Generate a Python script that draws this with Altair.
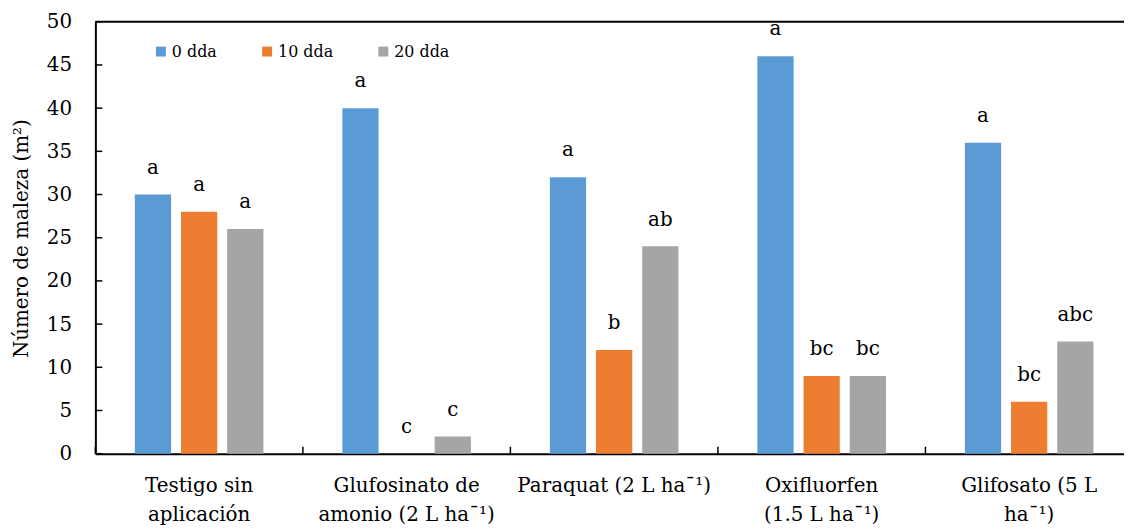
import altair as alt
import pandas as pd

categories = [
    "Testigo sin|aplicación",
    "Glufosinato de|amonio (2 L ha¯¹)",
    "Paraquat (2 L ha¯¹)",
    "Oxifluorfen|(1.5 L ha¯¹)",
    "Glifosato (5 L|ha¯¹)",
]
series = ["0 dda", "10 dda", "20 dda"]
values_0 = [30, 40, 32, 46, 36]
values_10 = [28, 0, 12, 9, 6]
values_20 = [26, 2, 24, 9, 13]
letters_0 = ["a", "a", "a", "a", "a"]
letters_10 = ["a", "c", "b", "bc", "bc"]
letters_20 = ["a", "c", "ab", "bc", "abc"]
y_ticks = [0, 5, 10, 15, 20, 25, 30, 35, 40, 45, 50]
colors = ["#5B9BD5", "#ED7D31", "#A5A5A5"]

rows = []
for i, c in enumerate(categories):
    for s, vals, lets in zip(series, [values_0, values_10, values_20],
                             [letters_0, letters_10, letters_20]):
        rows.append({"cat": c, "dda": s, "value": vals[i], "letter": lets[i]})
df = pd.DataFrame(rows)

FONT = "DejaVu Serif"
W, H = 1036, 435

x_enc = alt.X(
    "cat:N", sort=categories,
    scale=alt.Scale(range=[0, 1045], paddingInner=0, paddingOuter=0),
    axis=alt.Axis(title=None, labelExpr="split(datum.label, '|')", labelAngle=0,
                  ticks=False, tickSize=0, domain=True, domainColor="black",
                  domainWidth=2, labelFont=FONT, labelFontSize=20, labelColor="black",
                  labelPadding=22, labelBaseline="top", labelLineHeight=29,
                  labelLimit=0),
)
xoff_enc = alt.XOffset("dda:N", sort=series,
                       scale=alt.Scale(paddingInner=0.215, paddingOuter=0.855))
y_enc = alt.Y(
    "value:Q",
    scale=alt.Scale(domain=[0, 50], nice=False, zero=True),
    axis=alt.Axis(values=y_ticks, title="Número de maleza (m²)", titleFont=FONT,
                  titleFontSize=20, titleFontWeight="normal", titleColor="black",
                  titleAngle=270, titleX=-74, titleY=218, titleAlign="center",
                  titleBaseline="middle", grid=False, ticks=False, tickSize=0,
                  labelPadding=24, labelFont=FONT, labelFontSize=20,
                  labelColor="black", domainColor="black", domainWidth=2),
)

bars = alt.Chart(df).mark_bar().encode(
    x=x_enc, xOffset=xoff_enc, y=y_enc,
    color=alt.Color("dda:N", sort=series,
                    scale=alt.Scale(domain=series, range=colors),
                    legend=alt.Legend(title=None, orient="none", legendX=58, legendY=22,
                                      direction="horizontal", symbolType="square",
                                      symbolSize=100, symbolStrokeWidth=0,
                                      labelFont=FONT, labelFontSize=16,
                                      labelColor="black", columnPadding=42,
                                      labelOffset=3)),
)

labels = alt.Chart(df).mark_text(font=FONT, fontSize=20, dy=-21,
                                 baseline="alphabetic", color="black").encode(
    x=x_enc, xOffset=xoff_enc, y=y_enc, text="letter:N",
)

ytick_df = pd.DataFrame({"value": y_ticks})
yticks_layer = alt.Chart(ytick_df).mark_rule(color="black", strokeWidth=1.5).encode(
    y=alt.Y("value:Q"), x=alt.value(0), x2=alt.value(7),
)

cat_df = pd.DataFrame({"cat": categories})
xticks_layer = alt.Chart(cat_df).mark_rule(color="black", strokeWidth=1.5).encode(
    x=alt.X("cat:N", sort=categories, bandPosition=0),
    y=alt.value(H - 7), y2=alt.value(H),
)

top_df = pd.DataFrame({"value": [50]})
top_border = alt.Chart(top_df).mark_rule(color="black", strokeWidth=2).encode(
    y=alt.Y("value:Q"), x=alt.value(0), x2=alt.value(W),
)

chart = alt.layer(bars, labels, yticks_layer, xticks_layer, top_border).properties(
    width=W, height=H,
    autosize=alt.AutoSizeParams(type="none"),
    padding={"left": 88, "top": 12, "right": 0, "bottom": 74},
    background="white",
).configure_view(stroke=None)

chart.save("out.html", embed_options={"renderer": "svg", "actions": False})
